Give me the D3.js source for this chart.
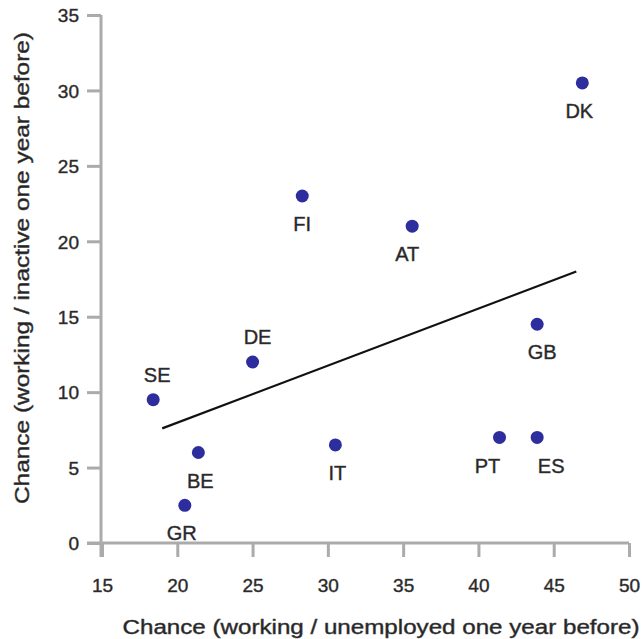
<!DOCTYPE html>
<head>
    <script src="https://d3js.org/d3.v7.min.js"></script>
    <style>
        body { margin: 0; background: #fff; }
        text { font-family: "Liberation Sans", Arial, sans-serif; fill: #222; stroke: #444; stroke-width: 0.45px; }
    </style>
</head>

<body>
    <div id="scatter"></div>
</body>

<script>

    // data
    const countries = ['SE', 'GR', 'BE', 'DE', 'FI', 'IT', 'AT', 'PT', 'ES', 'GB', 'DK'];
    const unemployed = [18.4, 20.5, 21.4, 25.0, 28.3, 30.5, 35.6, 41.4, 43.9, 43.9, 46.9];
    const inactive   = [9.5, 2.5, 6.0, 12.0, 23.0, 6.5, 21.0, 7.0, 7.0, 14.5, 30.5];
    const xTicks = [15, 20, 25, 30, 35, 40, 45, 50];
    const yTicks = [0, 5, 10, 15, 20, 25, 30, 35];
    const trendX = [19.0, 46.5];
    const trendY = [7.6, 18.0];

    // where each label sits relative to its dot
    const labelPlace = {
        SE: ['above', 4], GR: ['below', -3], BE: ['below', 2], DE: ['above', 5],
        FI: ['below', 0], IT: ['below', 2], AT: ['below', -5], PT: ['below', -12],
        ES: ['below', 14], GB: ['below', 5], DK: ['below', -3]
    };

    const width = 642,
        height = 639;

    const x = d3.scaleLinear().domain([15, 50]).range([102, 629]);
    const y = d3.scaleLinear().domain([0, 35]).range([543, 15]);

    const svg = d3.select('#scatter').append('svg')
        .attr('width', width)
        .attr('height', height);

    const axisColor = '#ababab';

    // y axis
    const gy = svg.append('g')
        .attr('transform', `translate(${x(15) - 1},0)`)
        .call(d3.axisLeft(y).tickValues(yTicks).tickSize(14).tickSizeOuter(0));
    gy.select('.domain').remove();
    gy.selectAll('.tick line').attr('stroke', axisColor).attr('stroke-width', 3);
    gy.selectAll('.tick text')
        .attr('x', -22)
        .attr('dy', '0.36em')
        .style('font-size', '19px');

    // x axis
    const gx = svg.append('g')
        .attr('transform', `translate(0,${y(0)})`)
        .call(d3.axisBottom(x).tickValues(xTicks).tickSize(14).tickSizeOuter(0));
    gx.select('.domain').remove();
    gx.selectAll('.tick line').attr('stroke', axisColor).attr('stroke-width', 3);
    gx.selectAll('.tick text')
        .attr('y', 42)
        .attr('dy', '0.36em')
        .style('font-size', '19px');

    // axis lines, both run a little past the corner
    svg.append('line')
        .attr('x1', x(15) - 1).attr('x2', x(15) - 1)
        .attr('y1', y(35)).attr('y2', y(0) + 14)
        .attr('stroke', axisColor).attr('stroke-width', 3);
    svg.append('line')
        .attr('x1', x(15) - 15).attr('x2', x(50))
        .attr('y1', y(0)).attr('y2', y(0))
        .attr('stroke', axisColor).attr('stroke-width', 3);

    // trend line
    svg.append('line')
        .attr('x1', x(trendX[0])).attr('y1', y(trendY[0]))
        .attr('x2', x(trendX[1])).attr('y2', y(trendY[1]))
        .attr('stroke', '#111').attr('stroke-width', 2.2);

    const pts = countries.map((c, i) => ({ name: c, ux: unemployed[i], iy: inactive[i] }));

    svg.selectAll('circle.dot').data(pts)
        .enter()
        .append('circle').attr('class', 'dot')
        .attr('cx', d => x(d.ux))
        .attr('cy', d => y(d.iy))
        .attr('r', 6.5)
        .attr('fill', '#2d2d9e');

    svg.selectAll('text.lab').data(pts)
        .enter()
        .append('text').attr('class', 'lab')
        .attr('x', d => x(d.ux) + labelPlace[d.name][1])
        .attr('y', d => y(d.iy) + (labelPlace[d.name][0] === 'above' ? -25 : 28))
        .attr('dy', '0.36em')
        .attr('text-anchor', 'middle')
        .style('font-size', '20px')
        .text(d => d.name);

    // axis titles
    svg.append('text')
        .attr('x', 381).attr('y', 627)
        .attr('dy', '0.36em')
        .attr('text-anchor', 'middle')
        .style('font-size', '20px')
        .attr('textLength', 517)
        .attr('lengthAdjust', 'spacingAndGlyphs')
        .text('Chance (working / unemployed one year before)');

    svg.append('text')
        .attr('transform', 'translate(22,268) rotate(-90)')
        .attr('dy', '0.36em')
        .attr('text-anchor', 'middle')
        .style('font-size', '20px')
        .attr('textLength', 472)
        .attr('lengthAdjust', 'spacingAndGlyphs')
        .text('Chance (working / inactive one year before)');

</script>
